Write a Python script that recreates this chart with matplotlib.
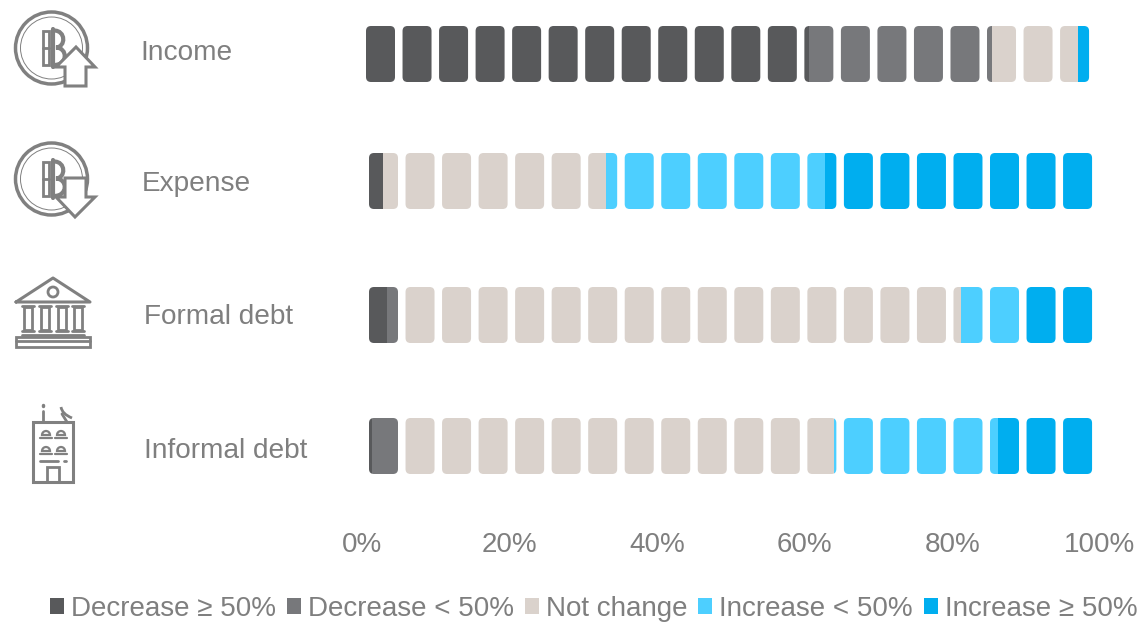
import matplotlib
matplotlib.use("Agg")
import matplotlib.pyplot as plt
from matplotlib.patches import FancyBboxPatch, Patch, Circle, Polygon, Rectangle, PathPatch, Wedge
from matplotlib.path import Path

plt.rcParams['font.family'] = ['Liberation Sans', 'DejaVu Sans']

# ---- data (percent of respondents) ----
categories = ["Income", "Expense", "Formal debt", "Informal debt"]
series_names = ["Decrease ≥ 50%", "Decrease < 50%", "Not change", "Increase < 50%", "Increase ≥ 50%"]
decrease_large = [60.6, 2.8, 3.4, 1.3]
decrease_small = [24.8, 0.0, 1.6, 3.7]
not_change = [11.6, 30.3, 76.2, 59.0]
increase_small = [0.0, 29.6, 8.8, 22.2]
increase_large = [3.0, 37.3, 10.0, 13.8]
tick_values = [0, 20, 40, 60, 80, 100]
tick_labels = ["0%", "20%", "40%", "60%", "80%", "100%"]

# ---- style / layout ----
W, H = 1137, 624
colors = ["#58595B", "#77787B", "#DAD2CC", "#4DCFFF", "#00AEEF"]
text_grey = "#7F7F7F"
icon_grey = "#808080"
AX_LEFT, AX_RIGHT, AX_BOTTOM = 362, 1100, 525
PX = (AX_RIGHT - AX_LEFT) / 100
row_centers = [54, 181, 315, 446]
row_height = 56
cell_starts_px = [366, 369, 369, 369]
cell_pitch_px = 36.53
cell_width_px = 29
corner_px = 5
n_cells = 20

fig = plt.figure(figsize=(W / 100, H / 100), dpi=100, facecolor="white")
ax = fig.add_axes([AX_LEFT / W, 1 - AX_BOTTOM / H, (AX_RIGHT - AX_LEFT) / W, AX_BOTTOM / H])
ax.set_xlim(0, 100)
ax.set_ylim(AX_BOTTOM, 0)
ax.set_xticks(tick_values, tick_labels)
ax.set_yticks([])
ax.tick_params(axis="x", length=0, pad=5, labelsize=20, labelcolor=text_grey)
for s in ax.spines.values():
    s.set_visible(False)

all_series = [decrease_large, decrease_small, not_change, increase_small, increase_large]
for r, yc in enumerate(row_centers):
    for c in range(n_cells):
        x0 = (cell_starts_px[r] + c * cell_pitch_px - AX_LEFT) / PX
        w = cell_width_px / PX
        cell = FancyBboxPatch((x0, yc - row_height / 2), w, row_height,
                              boxstyle=f"round,pad=0,rounding_size={corner_px / PX}",
                              mutation_aspect=PX, facecolor="none", edgecolor="none")
        ax.add_patch(cell)
        left = 0.0
        for vals, col in zip(all_series, colors):
            v = vals[r]
            if v > 0:
                bars = ax.barh(yc, v, left=left, height=row_height, color=col, linewidth=0)
                bars[0].set_clip_path(cell)
            left += v

# row labels
label_x = [140, 142, 144, 144]
label_y = [53.5, 184, 317, 451]
ov = fig.add_axes([0, 0, 1, 1], facecolor="none")
ov.set_xlim(0, W)
ov.set_ylim(H, 0)
ov.axis("off")
for name, x, y in zip(categories, label_x, label_y):
    ov.text(x, y, name, fontsize=20.2, color=text_grey, va="center", ha="left")


# ---- decorative icons ----
def line(xs, ys, lw=2.0):
    ov.plot(xs, ys, color=icon_grey, lw=lw, solid_capstyle="round", solid_joinstyle="round")


def coin(cy, arrow):
    cx = 51.5
    ov.add_patch(Circle((cx, cy), 36, fill=False, ec=icon_grey, lw=2.5))
    ov.add_patch(Circle((cx, cy), 31, fill=False, ec=icon_grey, lw=0.7))
    top, bot = cy - 17.5, cy + 17
    ov.add_patch(Rectangle((43, top), 6, bot - top, fill=False, ec=icon_grey, lw=2))
    line([43, 49], [cy, cy])
    line([52.5, 52.5], [top - 2, bot + 2], lw=3)
    verts = [(54, top), (66, top), (66, cy - 1), (56, cy - 0.5),
             (68, cy), (68, bot), (54, bot)]
    codes = [Path.MOVETO, Path.CURVE4, Path.CURVE4, Path.CURVE4,
             Path.CURVE4, Path.CURVE4, Path.CURVE4]
    ov.add_patch(PathPatch(Path(verts, codes), fill=False, ec=icon_grey, lw=3))
    ov.add_patch(Polygon(arrow, closed=True, fc="white", ec=icon_grey, lw=2.2, joinstyle="miter", zorder=3))


coin(48, [(76, 47), (95, 67), (86, 67), (86, 86), (65, 86), (65, 67), (56, 67)])
coin(179, [(65, 178), (86, 178), (86, 197), (95, 197), (75, 217), (56, 197), (65, 197)])

# bank
line([16, 53, 90, 16], [302, 278, 302, 302], lw=2.2)
ov.add_patch(Circle((53, 292), 5, fill=False, ec=icon_grey, lw=2))
for xc in (28, 45, 62, 78):
    line([xc - 6, xc + 6], [306, 306], lw=2)
    ov.add_patch(Rectangle((xc - 4, 307), 8, 23, fill=False, ec=icon_grey, lw=2))
    line([xc - 6, xc + 6], [331, 331], lw=2)
line([22, 84], [335, 335], lw=2)
ov.add_patch(Rectangle((16, 337), 74, 10, fill=False, ec=icon_grey, lw=2))
line([16, 90], [341, 341], lw=2)

# building
ov.add_patch(Rectangle((33, 422), 40, 60, fill=False, ec=icon_grey, lw=2.2))
line([43, 43], [411, 422], lw=2)
line([43, 43], [404.5, 405.5], lw=2.5)
line([62, 67], [414, 422], lw=2)
ov.add_patch(PathPatch(Path([(61, 407), (62, 414), (72, 418)], [Path.MOVETO, Path.CURVE3, Path.CURVE3]),
                       fill=False, ec=icon_grey, lw=2))
for yb in (437, 453):
    for xb in (46, 61):
        ov.add_patch(Wedge((xb, yb - 2), 4, 180, 360, fill=False, ec=icon_grey, lw=1.6))
        line([xb - 6, xb + 6], [yb + 1, yb + 1], lw=1.6)
line([40, 58], [461, 461], lw=2)
line([64, 66], [461, 461], lw=2)
ov.add_patch(Rectangle((47, 467), 12, 15, fill=False, ec=icon_grey, lw=2))

# legend
handles = [Patch(facecolor=c, edgecolor="none", label=n) for c, n in zip(colors, series_names)]
ov.legend(handles=handles, ncol=5, loc="center", bbox_to_anchor=(593.5 / W, 1 - 609 / H),
          bbox_transform=fig.transFigure, frameon=False, fontsize=20, labelcolor=text_grey,
          handlelength=0.5, handleheight=0.5, handletextpad=0.25, columnspacing=0.40,
          borderpad=0, borderaxespad=0)

fig.savefig("out.png", dpi=100, facecolor="white")
